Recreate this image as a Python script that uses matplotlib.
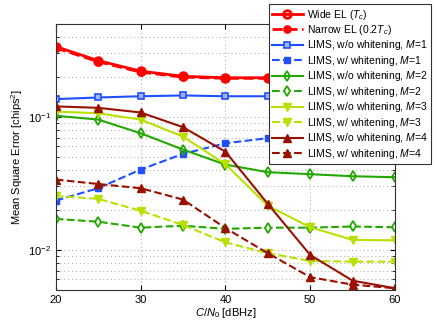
import matplotlib
matplotlib.use('Agg')
import matplotlib.pyplot as plt

plt.rcParams['font.family'] = ['Liberation Sans', 'DejaVu Sans']
plt.rcParams['mathtext.fontset'] = 'custom'
plt.rcParams['mathtext.it'] = 'Liberation Sans:italic'
plt.rcParams['mathtext.rm'] = 'Liberation Sans'

cn0 = [20, 25, 30, 35, 40, 45, 50, 55, 60]

wide_el = [0.338, 0.265, 0.221, 0.202, 0.197, 0.197, 0.195, 0.194, 0.193]
narrow_el = [0.330, 0.260, 0.217, 0.199, 0.195, 0.195, 0.193, 0.192, 0.191]
m1_wo = [0.136, 0.140, 0.143, 0.145, 0.143, 0.143, 0.143, 0.143, 0.143]
m1_w = [0.0235, 0.0291, 0.0402, 0.0527, 0.0634, 0.0692, 0.072, 0.074, 0.075]
m2_wo = [0.102, 0.0955, 0.0754, 0.0568, 0.0438, 0.0384, 0.0371, 0.0358, 0.0352]
m2_w = [0.0171, 0.0163, 0.0147, 0.0152, 0.0144, 0.0147, 0.0147, 0.0150, 0.0148]
m3_wo = [0.1096, 0.1066, 0.0955, 0.0711, 0.0441, 0.0215, 0.0148, 0.0119, 0.0118]
m3_w = [0.0254, 0.0242, 0.0197, 0.0154, 0.0114, 0.00945, 0.00826, 0.00816, 0.00816]
m4_wo = [0.120, 0.117, 0.108, 0.0837, 0.0548, 0.0222, 0.00916, 0.00587, 0.00515]
m4_w = [0.0338, 0.0313, 0.0291, 0.0239, 0.0146, 0.00944, 0.00624, 0.00548, 0.00515]

red = '#ff0000'
blue = '#1f4fff'
green = '#22a800'
yellow = '#b8e000'
brown = '#991100'

fig = plt.figure(figsize=(4.36, 3.28), dpi=100)
ax = fig.add_axes([0.128, 0.116, 0.778, 0.811])

ax.plot(cn0, wide_el, '-', color=red, lw=2, marker='o', ms=5.5, mfc='none', mew=2, label=r'Wide EL ($T_c$)')
ax.plot(cn0, narrow_el, '--', color=red, lw=2, marker='o', ms=5, mfc=red, mew=1.2, label=r'Narrow EL (0.2$T_c$)')
ax.plot(cn0, m1_wo, '-', color=blue, lw=1.5, marker='s', ms=4.5, mfc='#a0b4ff', mew=1.2, label=r'LIMS, w/o whitening, $M$=1')
ax.plot(cn0, m1_w, '--', color=blue, lw=1.5, marker='s', ms=4.5, mfc=blue, mew=1, label=r'LIMS, w/ whitening, $M$=1')
ax.plot(cn0, m2_wo, '-', color=green, lw=1.5, marker='d', ms=5.5, mfc='none', mew=1.3, label=r'LIMS, w/o whitening, $M$=2')
ax.plot(cn0, m2_w, '--', color=green, lw=1.5, marker='d', ms=5.5, mfc='white', mew=1.3, label=r'LIMS, w/ whitening, $M$=2')
ax.plot(cn0, m3_wo, '-', color=yellow, lw=1.5, marker='v', ms=6, mfc=yellow, mew=1, label=r'LIMS, w/o whitening, $M$=3')
ax.plot(cn0, m3_w, '--', color=yellow, lw=1.5, marker='v', ms=6, mfc=yellow, mew=1, label=r'LIMS, w/ whitening, $M$=3')
ax.plot(cn0, m4_wo, '-', color=brown, lw=1.5, marker='^', ms=6, mfc=brown, mew=1, label=r'LIMS, w/o whitening, $M$=4')
ax.plot(cn0, m4_w, '--', color=brown, lw=1.5, marker='^', ms=6, mfc=brown, mew=1, label=r'LIMS, w/ whitening, $M$=4')

ax.set_yscale('log')
ax.set_xlim(20, 60)
ax.set_ylim(0.005, 0.5)
ax.set_xticks([20, 30, 40, 50, 60])
ax.tick_params(which='both', direction='in', labelsize=8, top=True, right=True)
ax.grid(True, which='major', ls=(0, (1, 3)), color='#aaaaaa', lw=0.7)
ax.grid(True, which='minor', axis='y', ls=(0, (1, 3)), color='#aaaaaa', lw=0.7)
ax.set_xlabel(r'$C/N_0$ [dBHz]', fontsize=8, labelpad=1)
ax.set_ylabel(r'Mean Square Error [chips$^2$]', fontsize=8, labelpad=2)
for s in ax.spines.values():
    s.set_color('#333333')

leg = ax.legend(loc='upper right', bbox_to_anchor=(0.989, 0.988), bbox_transform=fig.transFigure,
                fontsize=7.5, fancybox=False, framealpha=1, edgecolor='#333333',
                handlelength=2.9, handletextpad=0.4, borderpad=0.35, labelspacing=0.14, borderaxespad=0)
leg.get_frame().set_linewidth(0.8)

fig.savefig('out.png', dpi=100)
